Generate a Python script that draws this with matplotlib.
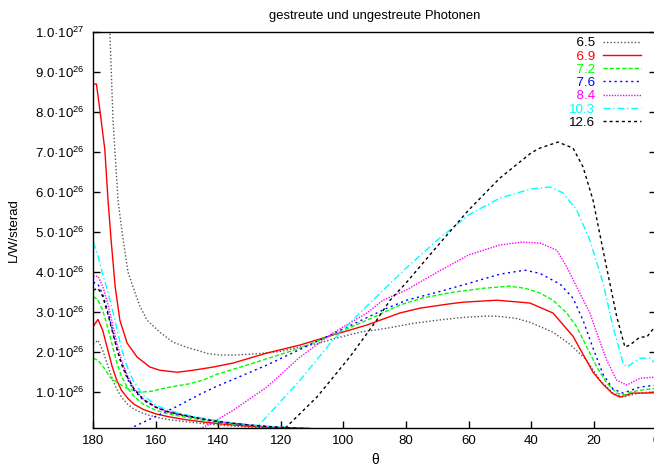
import matplotlib
matplotlib.use("Agg")
import matplotlib.pyplot as plt
from matplotlib.ticker import FixedLocator, FuncFormatter

plt.rcParams['font.family'] = ['Liberation Sans', 'DejaVu Sans']
plt.rcParams['mathtext.fontset'] = 'custom'
plt.rcParams['mathtext.rm'] = 'Liberation Sans'
plt.rcParams['mathtext.it'] = 'Liberation Sans:italic'
plt.rcParams['mathtext.bf'] = 'Liberation Sans:bold'

# ---------------- data (y in units of 1e26 W/sterad) ----------------
labels = ['6.5', '6.9', '7.2', '7.6', '8.4', '10.3', '12.6']
colors = ['#555555', '#ff0000', '#00ff00', '#0000ff', '#ff00ff', '#00ffff', '#000000']
styles = [(0, (1, 1.5)), '-', (0, (3, 1.5)), (0, (1.5, 2.5)), (0, (1, 1)),
          (0, (5, 2, 1, 2)), (0, (2.2, 2.2))]

# scattered component (broad curve)
th_a_65 = [176.5, 174.7, 173.7, 172.1, 170.8, 168.9, 166.5, 165.1, 162.8, 158.7, 154.5, 150, 146.8,
           143.6, 139.5, 135, 129.9, 125, 120.3, 113.9, 108, 103.4, 94.8, 86.1, 77.8, 70, 61.8,
           55, 50.9, 45, 40.4, 33.0, 27.6, 22.2, 18.0, 13.8, 10.6, 6.1, 3, 0]
y_a_65 = [13.5, 10.0, 7.8, 5.8, 5.0, 4.0, 3.45, 3.15, 2.8, 2.5, 2.25, 2.12, 2.05, 1.97, 1.93, 1.93,
          1.95, 1.98, 2.02, 2.13, 2.22, 2.33, 2.5, 2.6, 2.72, 2.8, 2.87, 2.9, 2.9, 2.85, 2.75, 2.5,
          2.2, 1.8, 1.3, 0.98, 0.88, 0.97, 1.0, 1.0]

th_a_69 = [180, 179, 177.9, 176.3, 175.3, 174.3, 173, 171.5, 169.2, 166, 161.9, 158.7, 153.2, 148.1,
           141.7, 135.3, 124.5, 113.9, 103.4, 92.5, 82, 75.6, 66.9, 61.8, 50.9, 40.4, 33, 26.6,
           23.4, 20.2, 17, 14, 11.6, 7.5, 3, 0]
y_a_69 = [8.7, 8.7, 8.05, 7.05, 5.8, 4.8, 3.63, 2.8, 2.23, 1.88, 1.63, 1.55, 1.5, 1.55, 1.63, 1.73,
          1.98, 2.18, 2.43, 2.68, 2.98, 3.1, 3.2, 3.25, 3.3, 3.23, 2.98, 2.4, 1.95, 1.5, 1.2, 0.97,
          0.88, 0.98, 0.98, 1.0]

th_a_72 = [180, 178.5, 176.5, 174.7, 172, 169.2, 165.1, 161, 158.7, 154, 150, 145, 140.5, 135, 130,
           120, 114, 107, 100, 92.5, 82, 75, 65, 55, 47, 42, 37.2, 33, 28.6, 25.4, 22.2, 19, 15.8,
           12.6, 10, 8.4, 5.2, 0]
y_a_72 = [1.85, 1.8, 1.6, 1.38, 1.22, 1.1, 1.0, 1.03, 1.08, 1.15, 1.2, 1.3, 1.45, 1.58, 1.7, 1.95,
          2.1, 2.32, 2.55, 2.8, 3.18, 3.35, 3.5, 3.6, 3.65, 3.6, 3.48, 3.3, 2.98, 2.63, 2.13, 1.63,
          1.23, 0.98, 0.93, 1.0, 1.05, 1.1]

th_a_76 = [170, 167.3, 160, 152.9, 145.9, 140.5, 135.3, 124.5, 113.9, 103.4, 94.8, 86.1, 79.8, 70,
           60, 50, 42, 37.2, 30.7, 26.6, 23.4, 20.2, 17, 13.8, 10.6, 5.2, 0]
y_a_76 = [0.0, 0.13, 0.4, 0.66, 0.95, 1.15, 1.32, 1.68, 2.07, 2.46, 2.78, 3.1, 3.3, 3.5, 3.72, 3.95,
          4.05, 3.97, 3.7, 3.35, 2.8, 2.1, 1.45, 1.08, 0.98, 1.13, 1.18]

th_a_84 = [150, 143.3, 135.3, 124.5, 113.9, 103.4, 92.5, 87.4, 80, 70, 60, 50, 43, 37.2, 31.8, 28.6,
           25.4, 21.2, 19, 15.8, 12.6, 9.4, 5.2, 0]
y_a_84 = [-0.05, 0.18, 0.55, 1.13, 1.88, 2.48, 2.98, 3.3, 3.55, 4.0, 4.43, 4.68, 4.75, 4.73, 4.55,
          4.13, 3.63, 2.98, 2.48, 1.8, 1.3, 1.18, 1.35, 1.38]

th_a_103 = [129, 127.6, 113.9, 103.4, 94.8, 90.6, 80, 70, 60, 50, 40, 37.2, 34, 29.8, 25.4, 21.2,
            17, 13.8, 10.6, 9.4, 5.2, 2, 0]
y_a_103 = [0.0, 0.13, 1.3, 2.3, 2.98, 3.3, 4.1, 4.8, 5.43, 5.85, 6.08, 6.1, 6.13, 5.98, 5.55, 4.8,
           3.73, 2.63, 1.73, 1.63, 1.85, 1.85, 1.7]

th_a_126 = [120, 118.7, 108.5, 98, 89.4, 85.1, 80, 70, 60, 50, 40, 37.2, 31.4, 26.6, 23.4, 20.2,
            17, 12.6, 10, 8.4, 5.2, 3, 1.3, 0]
y_a_126 = [0.0, 0.1, 0.88, 1.88, 2.8, 3.3, 3.73, 4.65, 5.55, 6.35, 6.98, 7.1, 7.25, 7.1, 6.63, 5.8,
           4.55, 2.88, 2.13, 2.18, 2.38, 2.38, 2.55, 2.65]

# unscattered component (decaying from 180 deg)
th_b = [180, 178.5, 177, 175.5, 174, 172.5, 171, 169, 167, 164, 160, 156, 150, 144, 138, 130, 122,
        114, 106]
y_b_65 = [2.2, 2.3, 2.05, 1.7, 1.35, 1.08, 0.88, 0.7, 0.58, 0.47, 0.38, 0.32, 0.26, 0.21, 0.17,
          0.13, 0.11, 0.09, 0.07]
y_b_69 = [2.65, 2.82, 2.55, 2.1, 1.65, 1.3, 1.05, 0.85, 0.7, 0.57, 0.46, 0.39, 0.31, 0.25, 0.2,
          0.15, 0.12, 0.1, 0.08]
y_b_72 = [3.4, 3.3, 3.05, 2.65, 2.2, 1.75, 1.4, 1.1, 0.9, 0.7, 0.55, 0.46, 0.37, 0.29, 0.23, 0.17,
          0.13, 0.1, 0.08]
y_b_76 = [3.75, 3.7, 3.45, 3.05, 2.6, 2.1, 1.7, 1.32, 1.05, 0.8, 0.62, 0.5, 0.4, 0.31, 0.24, 0.18,
          0.13, 0.1, 0.08]
y_b_84 = [3.9, 3.9, 3.65, 3.25, 2.75, 2.25, 1.8, 1.4, 1.1, 0.83, 0.63, 0.51, 0.41, 0.32, 0.25,
          0.18, 0.13, 0.1, 0.08]
y_b_103 = [4.75, 4.4, 3.95, 3.55, 3.1, 2.6, 2.1, 1.6, 1.25, 0.92, 0.68, 0.55, 0.43, 0.34, 0.26,
           0.19, 0.14, 0.1, 0.08]
y_b_126 = [3.55, 3.6, 3.4, 3.0, 2.55, 2.1, 1.72, 1.36, 1.08, 0.82, 0.63, 0.51, 0.41, 0.32, 0.25,
           0.18, 0.13, 0.1, 0.08]

series_a = [(th_a_65, y_a_65), (th_a_69, y_a_69), (th_a_72, y_a_72), (th_a_76, y_a_76),
            (th_a_84, y_a_84), (th_a_103, y_a_103), (th_a_126, y_a_126)]
series_b = [y_b_65, y_b_69, y_b_72, y_b_76, y_b_84, y_b_103, y_b_126]

x_ticks = [180, 160, 140, 120, 100, 80, 60, 40, 20, 0]
y_ticks = [1, 2, 3, 4, 5, 6, 7, 8, 9, 10]

# ---------------- figure ----------------
W, H = 654, 467
fig = plt.figure(figsize=(W / 100, H / 100), dpi=100)
ax = fig.add_axes([93.3 / W, (H - 428.3) / H, (656.2 - 93.3) / W, (428.3 - 32) / H])

handles = []
for lab, col, ls, (tha, ya), yb in zip(labels, colors, styles, series_a, series_b):
    ln, = ax.plot(tha, ya, color=col, ls=ls, lw=1.0, label=lab)
    ax.plot(th_b, yb, color=col, ls=ls, lw=1.0)
    handles.append(ln)

ax.set_xlim(180, 0)
ax.set_ylim(0.1, 10)
ax.xaxis.set_major_locator(FixedLocator(x_ticks))
ax.yaxis.set_major_locator(FixedLocator(y_ticks))


def yfmt(v, pos):
    if v >= 10:
        return r'1.0·10$^{27}$'
    return r'%.1f·10$^{26}$' % v


ax.yaxis.set_major_formatter(FuncFormatter(yfmt))
ax.tick_params(axis='both', direction='in', length=5, width=1, labelsize=9.5, colors='black')
ax.tick_params(axis='y', pad=6, right=True)
ax.tick_params(axis='x', pad=5)
for s in ax.spines.values():
    s.set_linewidth(1.0)

ax.set_title('gestreute und ungestreute Photonen', fontsize=9.4, pad=9)
ax.set_ylabel('L/W/sterad', fontsize=9.5, labelpad=11)
ax.set_xlabel('θ', fontsize=10, labelpad=4)

fs = '\u2007'
leg_labels = [fs + l if len(l) == 3 else l for l in labels]
leg = ax.legend(handles, leg_labels, loc='upper right', bbox_to_anchor=(641 / W, (H - 37) / H),
                bbox_transform=fig.transFigure, frameon=False, markerfirst=False, fontsize=9.6,
                handlelength=2.85, handletextpad=0.6, labelspacing=0.07, borderpad=0,
                borderaxespad=0)
for t, c in zip(leg.get_texts(), colors):
    t.set_color('black' if c == '#555555' else c)

fig.savefig('out.png', dpi=100)
